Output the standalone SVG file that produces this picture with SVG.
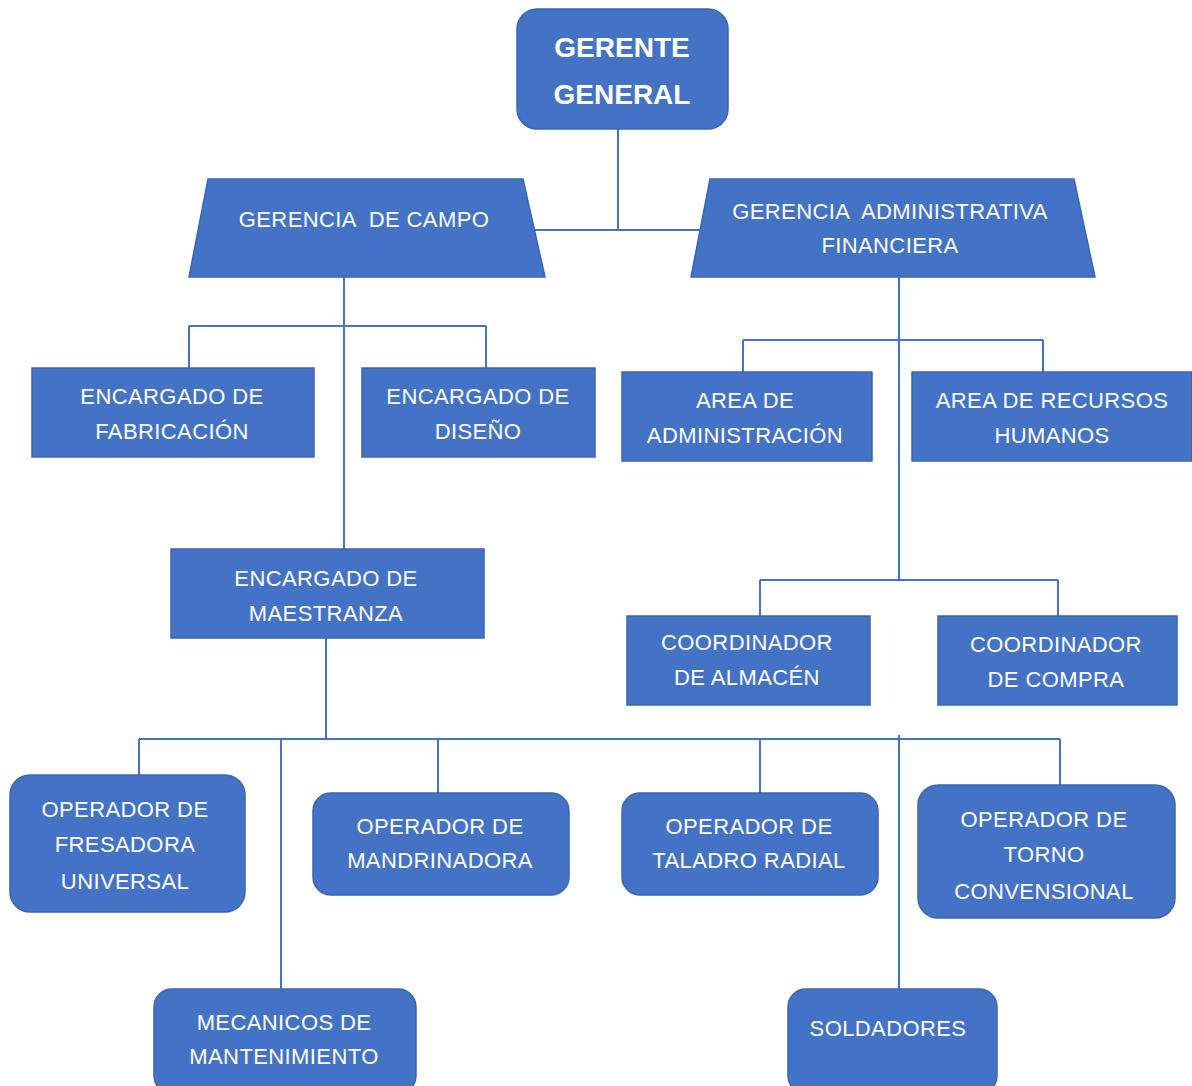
<svg xmlns="http://www.w3.org/2000/svg" width="1192" height="1086" viewBox="0 0 1192 1086">
<style>
.box{fill:#4472C4;stroke:#3A66B5;stroke-width:1.5}
.ln{fill:none;stroke:#4472C4;stroke-width:2}
text{font-family:"Liberation Sans",Arial,sans-serif;font-size:22px;fill:#FFFFFF;text-anchor:middle;letter-spacing:0.4px;white-space:pre}
.b{font-weight:bold;font-size:28px;letter-spacing:0}
</style>
<rect width="1192" height="1086" fill="#FFFFFF"/>
<g id="connectors">
<path class="ln" d="M618 129V230M535 230H700"/>
<path class="ln" d="M344 277V549M189 326H486M189 326V368M486 326V368"/>
<path class="ln" d="M899 277V580M743 340H1043M743 340V372M1043 340V372M760 580H1058M760 580V616M1058 580V616"/>
<path class="ln" d="M326 638V739M139 739H1060M139 739V775M281 739V989M438 739V793M760 739V793M899 735V989M1060 739V785"/>
</g>
<g id="gerente-general"><rect class="box" x="517" y="9" width="211" height="120" rx="20"/><text class="b" x="622" y="57">GERENTE</text><text class="b" x="622" y="104">GENERAL</text></g>
<g id="gerencia-campo"><polygon class="box" points="208,179 523,179 545,277 189,277"/><text x="364" y="227" xml:space="preserve">GERENCIA  DE CAMPO</text></g>
<g id="gerencia-admin"><polygon class="box" points="710,179 1074,179 1095,277 691,277"/><text x="890" y="219" xml:space="preserve">GERENCIA  ADMINISTRATIVA</text><text x="890" y="253">FINANCIERA</text></g>
<g id="fabricacion"><rect class="box" x="32" y="368" width="282" height="89"/><text x="172" y="404">ENCARGADO DE</text><text x="172" y="439">FABRICACIÓN</text></g>
<g id="diseno"><rect class="box" x="362" y="368" width="233" height="89"/><text x="478" y="404">ENCARGADO DE</text><text x="478" y="439">DISEÑO</text></g>
<g id="administracion"><rect class="box" x="622" y="372" width="250" height="89"/><text x="745" y="408">AREA DE</text><text x="745" y="443">ADMINISTRACIÓN</text></g>
<g id="rrhh"><rect class="box" x="912" y="372" width="280" height="89"/><text x="1052" y="408">AREA DE RECURSOS</text><text x="1052" y="443">HUMANOS</text></g>
<g id="almacen"><rect class="box" x="627" y="616" width="243" height="89"/><text x="747" y="650">COORDINADOR</text><text x="747" y="685">DE ALMACÉN</text></g>
<g id="compra"><rect class="box" x="938" y="616" width="239" height="89"/><text x="1056" y="652">COORDINADOR</text><text x="1056" y="687">DE COMPRA</text></g>
<g id="maestranza"><rect class="box" x="171" y="549" width="313" height="89"/><text x="326" y="586">ENCARGADO DE</text><text x="326" y="621">MAESTRANZA</text></g>
<g id="fresadora"><rect class="box" x="10" y="775" width="235" height="137" rx="20"/><text x="125" y="817">OPERADOR DE</text><text x="125" y="852">FRESADORA</text><text x="125" y="889">UNIVERSAL</text></g>
<g id="mandrinadora"><rect class="box" x="313" y="793" width="256" height="102" rx="18"/><text x="440" y="834">OPERADOR DE</text><text x="440" y="868">MANDRINADORA</text></g>
<g id="taladro"><rect class="box" x="622" y="793" width="256" height="102" rx="18"/><text x="749" y="834">OPERADOR DE</text><text x="749" y="868">TALADRO RADIAL</text></g>
<g id="torno"><rect class="box" x="918" y="785" width="257" height="133" rx="20"/><text x="1044" y="827">OPERADOR DE</text><text x="1044" y="862">TORNO</text><text x="1044" y="899">CONVENSIONAL</text></g>
<g id="mecanicos"><rect class="box" x="154" y="989" width="262" height="105" rx="18"/><text x="284" y="1030">MECANICOS DE</text><text x="284" y="1064">MANTENIMIENTO</text></g>
<g id="soldadores"><rect class="box" x="788" y="989" width="209" height="105" rx="18"/><text x="888" y="1036">SOLDADORES</text></g>
</svg>
